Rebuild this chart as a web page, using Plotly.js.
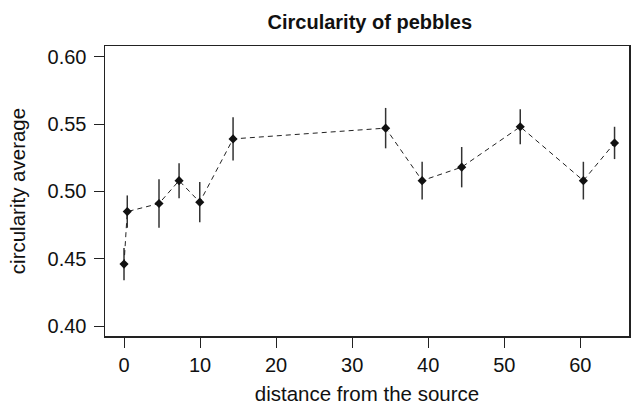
<!DOCTYPE html>
<html>
<head>
<meta charset="utf-8">
<script src="https://cdn.plot.ly/plotly-3.0.1.min.js"></script>
<style>html,body{margin:0;padding:0;background:#fff;}#chart{width:631px;height:405px;}</style>
</head>
<body>
<div id="chart"></div>
<script>
const distance = [0.0, 0.43, 4.6, 7.24, 9.96, 14.34, 34.4, 39.2, 44.4, 52.1, 60.4, 64.5];
const circularity = [0.446, 0.485, 0.491, 0.508, 0.492, 0.539, 0.547, 0.508, 0.518, 0.548, 0.508, 0.536];
const errorHalf = [0.012, 0.012, 0.018, 0.013, 0.015, 0.016, 0.015, 0.014, 0.015, 0.013, 0.014, 0.012];
const xTicks = [0, 10, 20, 30, 40, 50, 60];
const yTicks = [0.40, 0.45, 0.50, 0.55, 0.60];

const font = 'Liberation Sans, Arial, Helvetica, sans-serif';

const trace = {
  x: distance,
  y: circularity,
  type: 'scatter',
  mode: 'lines+markers',
  line: {color: '#222', width: 1, dash: '5px,4px'},
  marker: {symbol: 'diamond', size: 7, color: '#111'},
  error_y: {type: 'data', array: errorHalf, visible: true, color: '#333', thickness: 1.5, width: 0},
  showlegend: false,
  hoverinfo: 'x+y'
};

const layout = {
  width: 631, height: 405,
  margin: {l: 105, r: 2, t: 46, b: 69},
  paper_bgcolor: '#fff', plot_bgcolor: '#fff',
  font: {family: font, color: '#111', size: 20},
  title: {text: '<b>Circularity of pebbles</b>', font: {size: 20, family: font, color: '#111'}, x: 0.586, xanchor: 'center', y: 0.945, yanchor: 'middle'},
  xaxis: {
    range: [-2.5, 66.4], tickvals: xTicks, ticktext: xTicks.map(String),
    showgrid: false, zeroline: false, showline: true, mirror: true, linecolor: '#222', linewidth: 1.5,
    ticks: 'outside', ticklen: 10, tickwidth: 1, tickcolor: '#222',
    tickfont: {size: 20, family: font, color: '#111'},
    title: {text: 'distance from the source', font: {size: 20.5, family: font, color: '#111'}, standoff: 12},
    automargin: false
  },
  yaxis: {
    range: [0.3926, 0.608], tickvals: yTicks, ticktext: yTicks.map(v => v.toFixed(2)),
    showgrid: false, zeroline: false, showline: true, mirror: true, linecolor: '#222', linewidth: 1.5,
    ticks: 'outside', ticklen: 10, tickwidth: 1, tickcolor: '#222', ticklabelstandoff: 3,
    tickfont: {size: 20, family: font, color: '#111'},
    title: {text: 'circularity average', font: {size: 20.5, family: font, color: '#111'}, standoff: 16},
    automargin: false
  }
};

Plotly.newPlot('chart', [trace], layout, {displayModeBar: false, staticPlot: true});
</script>
</body>
</html>
